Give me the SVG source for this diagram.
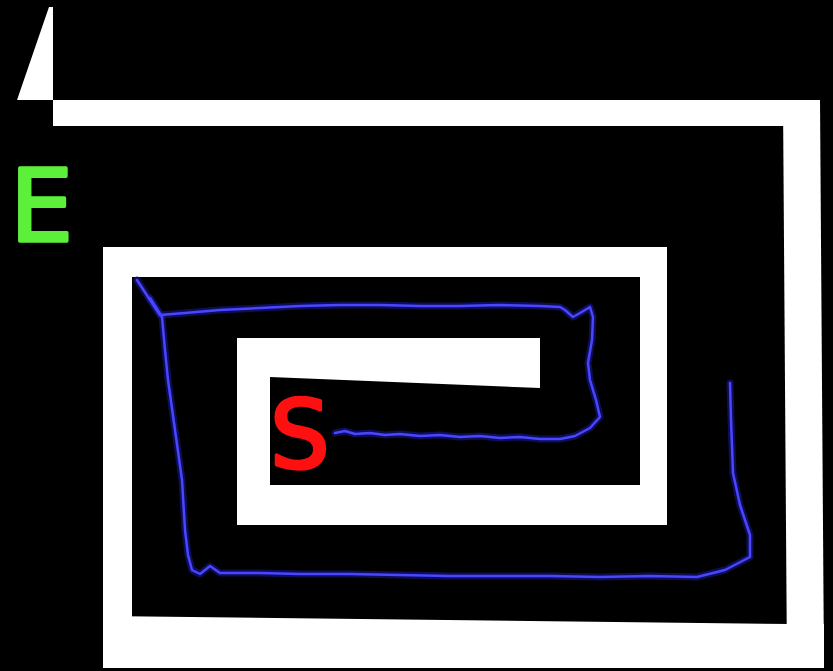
<svg xmlns="http://www.w3.org/2000/svg" width="833" height="671" viewBox="0 0 833 671">
<style>
.wall{fill:#ffffff}
.glow{fill:none;stroke:#1a1aa0;stroke-width:7;stroke-linejoin:round;stroke-linecap:round;opacity:0.55}
.line{fill:none;stroke:#4a46ff;stroke-width:2.5;stroke-linejoin:round;stroke-linecap:round}
.lbl{font-family:"DejaVu Sans",sans-serif;stroke-width:3.5;stroke-linejoin:round;stroke-linecap:round}
</style>
<rect x="0" y="0" width="833" height="671" fill="#000000"/>
<g id="maze">
<polygon class="wall" points="49,7 53,7 53,100 17,100"/>
<rect class="wall" x="53" y="100" width="767" height="26"/>
<polygon class="wall" points="783,100 820,100 824,668 787,668"/>
<polygon class="wall" points="103,616 790,624 824,624 824,668 103,668"/>
<rect class="wall" x="103" y="247" width="29" height="421"/>
<rect class="wall" x="103" y="247" width="564" height="30"/>
<rect class="wall" x="640" y="247" width="27" height="278"/>
<rect class="wall" x="237" y="485" width="430" height="40"/>
<rect class="wall" x="237" y="338" width="33" height="187"/>
<polygon class="wall" points="237,338 540,338 540,388 270,377 237,377"/>
</g>
<g id="path">
<path class="glow" d="M335,433 L345,431 L355,434 L370,433 L385,435 L400,434 L420,436 L440,435 L460,437 L480,436 L500,438 L520,437 L540,439 L560,439 L575,436 L590,428 L600,417 L596,400 L590,380 L588,363 L592,340 L593,317 L590,307 L580,313 L573,317 L565,310 L560,307 L540,306 L500,305 L460,306 L420,306 L380,305 L340,305 L300,306 L260,308 L220,310 L185,313 L160,315 L150,300 L137,280"/>
<path class="glow" d="M150,298 L162,317 L165,350 L168,380 L175,430 L182,480 L185,530 L188,555 L192,570 L200,574 L210,566 L220,573 L260,573 L300,574 L350,574 L400,575 L450,576 L500,576 L550,576 L600,577 L650,576 L697,577 L725,570 L750,557 L750,535 L740,505 L733,473 L731,420 L730,383"/>
<path class="line" d="M335,433 L345,431 L355,434 L370,433 L385,435 L400,434 L420,436 L440,435 L460,437 L480,436 L500,438 L520,437 L540,439 L560,439 L575,436 L590,428 L600,417 L596,400 L590,380 L588,363 L592,340 L593,317 L590,307 L580,313 L573,317 L565,310 L560,307 L540,306 L500,305 L460,306 L420,306 L380,305 L340,305 L300,306 L260,308 L220,310 L185,313 L160,315 L150,300 L137,280"/>
<path class="line" d="M150,298 L162,317 L165,350 L168,380 L175,430 L182,480 L185,530 L188,555 L192,570 L200,574 L210,566 L220,573 L260,573 L300,574 L350,574 L400,575 L450,576 L500,576 L550,576 L600,577 L650,576 L697,577 L725,570 L750,557 L750,535 L740,505 L733,473 L731,420 L730,383"/>
</g>
<g id="label-E"><text class="lbl" x="10" y="241" font-size="100" fill="#5cf03a" stroke="#5cf03a">E</text></g>
<g id="label-S"><text class="lbl" x="270" y="468" font-size="94" fill="#ff1010" stroke="#ff1010">S</text></g>
</svg>
